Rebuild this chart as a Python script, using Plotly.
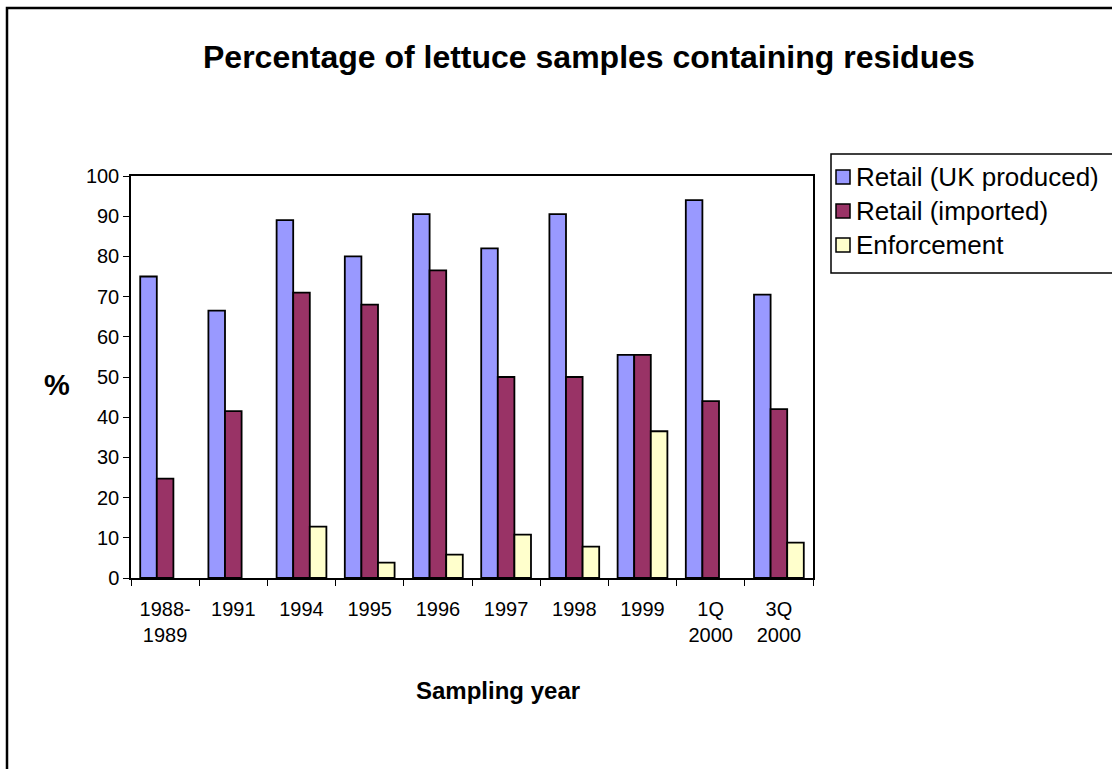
import plotly.graph_objects as go

# Sampling years (x categories)
years = ["1988-<br>1989", "1991", "1994", "1995", "1996", "1997", "1998",
         "1999", "1Q<br>2000", "3Q<br>2000"]

# Percentage of samples with residues, by series
retail_uk = [75, 66.5, 89, 80, 90.5, 82, 90.5, 55.5, 94, 70.5]
retail_imported = [24.7, 41.5, 71, 68, 76.5, 50, 50, 55.5, 44, 42]
enforcement = [None, None, 12.8, 3.8, 5.8, 10.8, 7.8, 36.5, None, 8.8]

series_names = ["Retail (UK produced)", "Retail (imported)", "Enforcement"]
series_colors = ["#9999FF", "#993366", "#FFFFCC"]

FONT = "Liberation Sans, Arial, sans-serif"

# plot-area pixel frame, used to place text in paper coordinates
L, R, T, B = 131, 813, 176, 578
W, H = 1112, 769


def px(x):
    return (x - L) / (R - L)


def py(y):
    return (B - y) / (B - T)


fig = go.Figure()
for name, vals, col in zip(series_names,
                           [retail_uk, retail_imported, enforcement],
                           series_colors):
    fig.add_trace(go.Bar(
        x=years, y=vals, name=name, showlegend=False,
        marker=dict(color=col, line=dict(color="black", width=1.8)),
    ))

fig.update_layout(
    width=W, height=H,
    margin=dict(l=L, r=W - R, t=T, b=H - B, autoexpand=False),
    paper_bgcolor="white", plot_bgcolor="white",
    barmode="group", bargap=0.27, bargroupgap=0,
    font=dict(family=FONT, color="black", size=20),
    showlegend=False,
    xaxis=dict(
        type="category", showline=True, linecolor="black", linewidth=1.5,
        mirror=True, ticks="outside", ticklen=6, tickcolor="black",
        tickson="boundaries", showgrid=False, ticklabelstandoff=12,
        tickfont=dict(family=FONT, size=20), automargin=False,
    ),
    yaxis=dict(
        range=[0, 100], dtick=10, showline=True, linecolor="black",
        linewidth=1.5, mirror=True, ticks="outside", ticklen=6,
        tickcolor="black", showgrid=False, zeroline=False,
        tickfont=dict(family=FONT, size=20), automargin=False,
    ),
)

# Legend box (box runs past the right edge of the chart)
fig.add_shape(
    type="rect", xref="paper", yref="paper",
    x0=px(831), x1=px(1130), y0=py(154), y1=py(273),
    line=dict(color="black", width=1.5), fillcolor="white",
)
row_y = [177, 211, 245]
for name, col, yy in zip(series_names, series_colors, row_y):
    fig.add_shape(
        type="rect", xref="paper", yref="paper",
        x0=px(836), x1=px(850), y0=py(yy - 7), y1=py(yy + 7),
        line=dict(color="black", width=1.5), fillcolor=col,
    )
    fig.add_annotation(
        text=name, x=px(854), y=py(yy), xref="paper", yref="paper",
        showarrow=False, xanchor="left", yanchor="middle",
        font=dict(family=FONT, size=26, color="black"),
    )

# Titles
fig.add_annotation(
    text="<b>Percentage of lettuce samples containing residues</b>",
    x=px(589), y=py(57), xref="paper", yref="paper", showarrow=False,
    xanchor="center", yanchor="middle",
    font=dict(family=FONT, size=32, color="black"),
)
fig.add_annotation(
    text="<b>Sampling year</b>",
    x=px(498), y=py(690), xref="paper", yref="paper", showarrow=False,
    xanchor="center", yanchor="middle",
    font=dict(family=FONT, size=24, color="black"),
)
fig.add_annotation(
    text="<b>%</b>",
    x=px(57), y=py(385), xref="paper", yref="paper", showarrow=False,
    xanchor="center", yanchor="middle",
    font=dict(family=FONT, size=29, color="black"),
)

# Chart-area border
fig.add_shape(
    type="rect", xref="paper", yref="paper",
    x0=px(7), x1=px(1125), y0=py(8), y1=py(790),
    line=dict(color="black", width=2.5), fillcolor="rgba(0,0,0,0)",
    layer="above",
)

fig.write_html("out.html")
